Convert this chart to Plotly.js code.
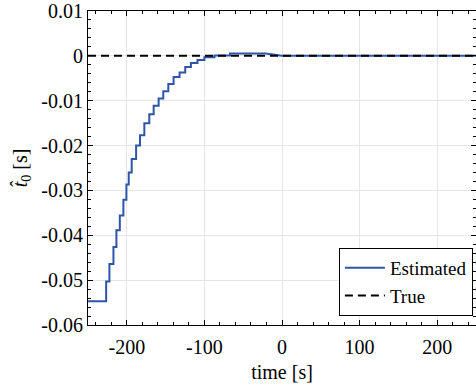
<!DOCTYPE html>
<html>
<head>
<meta charset="utf-8">
<script src="https://cdn.plot.ly/plotly-3.0.1.min.js"></script>
<style>
html,body{margin:0;padding:0;background:#fff;}
#chart{width:476px;height:392px;}
</style>
</head>
<body>
<div id="chart"></div>
<script>
// Estimated t0 (staircase, value holds from each x until the next)
const timeEst = [-250, -226.6, -222.4, -217.2, -213.4, -209, -204.4, -200.5, -197.5, -193.7, -188, -183, -177.4, -171, -165.4, -159, -153, -146.5, -139.7, -132, -124.7, -117.4, -108.9, -100, -87, -67, -21, 0, 250];
const t0Est   = [-0.0547, -0.0503, -0.0464, -0.0426, -0.0389, -0.0356, -0.0321, -0.0287, -0.0260, -0.0230, -0.0200, -0.0177, -0.0150, -0.0130, -0.0111, -0.0095, -0.0079, -0.0063, -0.0047, -0.0037, -0.0025, -0.0016, -0.0009, -0.0003, 0.0001, 0.0005, 0.0005, 0, 0];
const timeTrue = [-250, 250];
const t0True   = [0, 0];
const xTickVals = [-200, -100, 0, 100, 200];
const xTickText = ["-200", "-100", "0", "100", "200"];
const yTickVals = [-0.06, -0.05, -0.04, -0.03, -0.02, -0.01, 0, 0.01];
const yTickText = ["-0.06", "-0.05", "-0.04", "-0.03", "-0.02", "-0.01", "0", "0.01"];

// build shape: hv steps except the final ramp (-21 -> 0) which is linear
const xs = [], ys = [];
for (let i = 0; i < timeEst.length; i++) {
  if (i > 0 && timeEst[i - 1] !== -21) { xs.push(timeEst[i]); ys.push(t0Est[i - 1]); }
  xs.push(timeEst[i]); ys.push(t0Est[i]);
}

const serifFont = {family: "Liberation Serif, DejaVu Serif, serif", size: 20, color: "#000"};
const legendFont = {family: "Liberation Serif, DejaVu Serif, serif", size: 19, color: "#000"};

const traces = [
  {x: xs, y: ys, type: "scatter", mode: "lines", name: "Estimated",
   line: {color: "#2f54a8", width: 2}},
  {x: timeTrue, y: t0True, type: "scatter", mode: "lines", name: "True",
   line: {color: "#000", width: 2, dash: "8px,5px"}}
];

const axisCommon = {
  showline: true, linecolor: "#000", linewidth: 1, mirror: "allticks",
  ticks: "inside", ticklen: 5, tickcolor: "#000", tickwidth: 1,
  showgrid: true, gridcolor: "#e6e6e6", gridwidth: 1, zeroline: false,
  tickfont: serifFont
};

const layout = {
  width: 476, height: 392,
  margin: {l: 88, r: 0, t: 11, b: 67},
  paper_bgcolor: "#fff", plot_bgcolor: "#fff",
  font: serifFont,
  showlegend: true,
  legend: {x: 0.992, y: 0.029, xanchor: "right", yanchor: "bottom",
           bgcolor: "#fff", bordercolor: "#000", borderwidth: 1,
           font: legendFont, tracegroupgap: 0, itemwidth: 40},
  xaxis: Object.assign({}, axisCommon, {
    range: [-250, 250], tickmode: "array", tickvals: xTickVals, ticktext: xTickText,
    ticklabelstandoff: 4,
    minor: {tickmode: "linear", tick0: 0, dtick: 20, ticks: "inside", ticklen: 3, tickcolor: "#000", showgrid: false},
    title: {text: "time [s]", font: serifFont, standoff: 7}
  }),
  yaxis: Object.assign({}, axisCommon, {
    range: [-0.06, 0.01], tickmode: "array", tickvals: yTickVals, ticktext: yTickText,
    minor: {tickmode: "linear", tick0: 0, dtick: 0.002, ticks: "inside", ticklen: 3, tickcolor: "#000", showgrid: false},
    title: {text: "<i>t̂</i><sub>0</sub> [s]", font: serifFont, standoff: 8}
  })
};

Plotly.newPlot("chart", traces, layout, {displayModeBar: false, staticPlot: true});
</script>
</body>
</html>
